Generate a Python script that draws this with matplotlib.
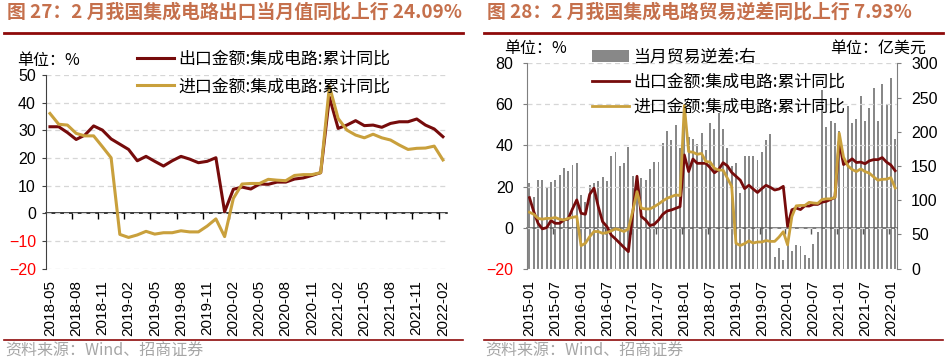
import matplotlib
matplotlib.use('Agg')
import matplotlib.pyplot as plt
from matplotlib.lines import Line2D
import numpy as np
import pandas as pd

plt.rcParams['font.family'] = ['Noto Sans CJK SC', 'DejaVu Sans']

W, H = 948, 361
RED = '#760B0B'
GOLD = '#C9A03C'
TITLE_C = '#C5704C'
RULE_C = '#8E0A0A'
GRID_C = '#D6D6D6'
NUM_FONT = ['Liberation Sans', 'DejaVu Sans']

# ---- fig 27: cumulative yoy of IC export / import, 2018-05 .. 2022-02 (%)
months_l = pd.period_range('2018-05', '2022-02', freq='M').strftime('%Y-%m').tolist()
export_l = [31.3, 31.3, 29.2, 26.7, 28.3, 31.6, 30.1, 26.9, 25.0, 23.1,
            19.0, 20.6, 18.8, 17.1, 19.0, 20.6, 19.6, 18.3, 18.8, 20.1,
            0.6, 8.7, 9.5, 8.8, 10.6, 10.5, 11.3, 11.3, 12.4, 12.8,
            13.7, 14.7, 42.0, 30.7, 31.9, 33.5, 31.7, 31.9, 31.1, 32.5,
            33.1, 33.1, 34.1, 31.9, 30.5, 27.7]
import_l = [36.1, 32.2, 31.9, 28.9, 28.0, 28.0, 24.1, 20.1, -7.6, -8.7,
            -7.8, -6.5, -7.5, -7.0, -7.0, -6.3, -6.7, -6.7, -4.6, -2.0,
            -8.4, 5.4, 10.6, 10.8, 10.8, 12.3, 12.0, 11.8, 13.7, 14.0,
            14.0, 14.7, 46.0, 34.3, 30.1, 28.3, 27.3, 28.6, 27.3, 26.5,
            24.7, 23.1, 23.5, 23.6, 24.3, 19.3]

# ---- fig 28: 2015-01 .. 2022-02
months_r = pd.period_range('2015-01', '2022-02', freq='M').strftime('%Y-%m').tolist()
# monthly IC trade deficit (100m USD, right axis)
deficit_r = [125, 104, 130, 130, 119, 127, 130, 137, 147, 142, 152, 155,
             108, 98, 122, 125, 128, 134, 128, 164, 170, 150, 155, 178,
             135, 132, 132, 129, 146, 156, 156, 183, 201, 188, 210, 176,
             210, 192, 189, 182, 198, 174, 213, 204, 227, 204, 176, 150,
             155, 111, 164, 164, 164, 159, 171, 188, 197, 17, 30, 13,
             42, 26, 35, 33, 20, 15, 36, 53, 261, 207, 216, 213,
             201, 168, 237, 213, 219, 252, 216, 234, 264, 216, 270, 240,
             279, 189]
# 2015-01 .. 2018-04 part of the yoy series (later part is shared with fig 27)
export_early = [14.6, 7.8, 2.1, -0.6, 0.0, 3.4, 2.1, 2.1, 3.7, 4.2,
                9.1, 13.5, 7.0, 6.5, 16.2, 19.2, 10.2, 2.9, 0.5, -3.6,
                -5.5, -7.6, -9.7, -11.7, 7.0, 25.0, 5.4, 3.7, 1.0, 1.6,
                3.7, 6.5, 8.1, 8.6, 9.4, 10.2, 35.4, 27.3, 33.4, 31.3]
import_early = [7.5, 6.5, 4.5, 4.1, 4.5, 4.5, 4.9, 4.1, 3.7, 4.5,
                5.0, 5.4, -8.8, -7.6, -4.4, -1.9, -1.9, -2.8, -2.4, -1.6,
                -0.6, -1.1, -1.9, -0.6, 8.0, 17.5, 9.4, 9.1, 9.1, 10.2,
                11.5, 13.0, 14.3, 15.1, 15.9, 15.6, 59.5, 37.0, 36.7, 35.7]
export_r = export_early + export_l
import_r = import_early + import_l

LBL_EXP = '出口金额:集成电路:累计同比'
LBL_IMP = '进口金额:集成电路:累计同比'


def fx(x):
    return x / W


def fy(y):
    return 1 - y / H


def style_ticks(ax, neg_red=True):
    for lbl in ax.get_yticklabels():
        lbl.set_fontfamily(NUM_FONT)
        if neg_red and lbl.get_text().replace('\u2212', '-').startswith('-'):
            lbl.set_color('red')
    for lbl in ax.get_xticklabels():
        lbl.set_fontfamily(NUM_FONT)


def zero_axis(ax, ticks, color):
    # horizontal axis line at y=0 with tick marks pointing down
    lo, hi = ax.get_ylim()
    sec = ax.secondary_xaxis((0 - lo) / (hi - lo))
    sec.set_xticks(ticks)
    sec.tick_params(axis='x', direction='out', length=4, width=1, color=color,
                    labelbottom=False, labeltop=False)
    for s in sec.spines.values():
        s.set_color(color)
        s.set_linewidth(1.1)
    return sec


fig = plt.figure(figsize=(W / 100, H / 100), dpi=100)

# header / footer decorations
for x0, x1, title in [(4, 463, '图 27：2 月我国集成电路出口当月值同比上行 24.09%'),
                      (484, 943, '图 28：2 月我国集成电路贸易逆差同比上行 7.93%')]:
    fig.text(fx(x0 + 3), fy(12.5), title, fontsize=13.6, fontweight='bold',
             color=TITLE_C, va='center', ha='left')
    fig.add_artist(Line2D([fx(x0), fx(x1)], [fy(33)] * 2, color=RULE_C, lw=2))
    fig.add_artist(Line2D([fx(x0), fx(x1)], [fy(339.5)] * 2, color=RULE_C, lw=1.2))
    fig.text(fx(x0 + 1), fy(351.5), '资料来源：Wind、招商证券', fontsize=11.5,
             color='#A6A6A6', va='center', ha='left')

# ================= left chart =================
n_l = len(months_l)
x_l = np.arange(n_l)
ax1 = fig.add_axes([fx(45.6), fy(268.7), fx(447.3) - fx(45.6), fy(75) - fy(268.7)])
ax1.plot(x_l, export_l, color=RED, lw=2.2, label=LBL_EXP, solid_joinstyle='round')
ax1.plot(x_l, import_l, color=GOLD, lw=2.2, label=LBL_IMP, solid_joinstyle='round')
ax1.set_xlim(-0.5, n_l - 0.5)
ax1.set_ylim(-20, 50)
ax1.set_yticks(range(-20, 51, 10))
ax1.yaxis.grid(True, linestyle=(0, (4, 3)), color=GRID_C, lw=0.9)
ax1.set_axisbelow(True)
for s in ['top', 'right', 'bottom']:
    ax1.spines[s].set_visible(False)
ax1.spines['left'].set_color('#404040')
ax1.tick_params(axis='y', direction='out', length=3, color='#404040',
                labelsize=11.5, pad=4)
ax1.set_xticks(x_l[::3])
ax1.set_xticklabels(months_l[::3], rotation=90)
ax1.tick_params(axis='x', length=0, labelsize=11, pad=8)
style_ticks(ax1)
zero_axis(ax1, np.arange(2.5, n_l - 1, 3), 'black')
ax1.legend(loc='upper left', bbox_to_anchor=(fx(137), fy(50)),
           bbox_transform=fig.transFigure, frameon=False, fontsize=12.2,
           handlelength=2.2, handletextpad=0.25, labelspacing=0.55,
           borderpad=0, borderaxespad=0)
fig.text(fx(17), fy(61), '单位：%', fontsize=11.5, va='center', ha='left')

# ================= right chart =================
n_r = len(months_r)
x_r = np.arange(n_r)
ax2 = fig.add_axes([fx(527.3), fy(268.7), fx(897.3) - fx(527.3), fy(63.3) - fy(268.7)])
ax2r = ax2.twinx()
ax2r.bar(x_r, deficit_r, width=0.45, color='#888888', label='当月贸易逆差:右')
ax2r.set_ylim(0, 300)
ax2r.set_yticks(range(0, 301, 50))
ax2.set_zorder(ax2r.get_zorder() + 1)
ax2.patch.set_visible(False)

ax2.plot(x_r, export_r, color=RED, lw=2.0, label=LBL_EXP, solid_joinstyle='round')
ax2.plot(x_r, import_r, color=GOLD, lw=2.0, label=LBL_IMP, solid_joinstyle='round')
ax2.set_xlim(-0.5, n_r - 0.5)
ax2.set_ylim(-20, 80)
ax2.set_yticks(range(-20, 81, 20))
ax2.yaxis.grid(True, linestyle=(0, (4, 3)), color=GRID_C, lw=0.9)

for a in (ax2, ax2r):
    for s in ['top', 'bottom']:
        a.spines[s].set_visible(False)
ax2.spines['right'].set_visible(False)
ax2r.spines['left'].set_visible(False)
ax2.spines['left'].set_color('#7F7F7F')
ax2r.spines['right'].set_color('#7F7F7F')
ax2.tick_params(axis='y', direction='out', length=3, color='#7F7F7F',
                labelsize=11.5, pad=7)
ax2r.tick_params(axis='y', direction='out', length=3, color='#7F7F7F',
                 labelsize=11.5, pad=7)
ax2.set_xticks(x_r[::6][:15])
ax2.set_xticklabels(months_r[::6][:15], rotation=90)
ax2.tick_params(axis='x', length=0, labelsize=11, pad=8)
style_ticks(ax2)
style_ticks(ax2r, neg_red=False)
zero_axis(ax2, np.arange(5.5, n_r - 1, 6), '#595959')

h1, l1 = ax2r.get_legend_handles_labels()
h2, l2 = ax2.get_legend_handles_labels()
ax2.legend(h1 + h2, l1 + l2, loc='upper left', bbox_to_anchor=(fx(592), fy(48)),
           bbox_transform=fig.transFigure, frameon=False, fontsize=12.2,
           handlelength=2.2, handletextpad=0.25, labelspacing=0.4,
           borderpad=0, borderaxespad=0)
fig.text(fx(504), fy(48), '单位：%', fontsize=11.5, va='center', ha='left')
fig.text(fx(926), fy(48), '单位：亿美元', fontsize=11.5, va='center', ha='right')

fig.savefig('out.png', dpi=100)
